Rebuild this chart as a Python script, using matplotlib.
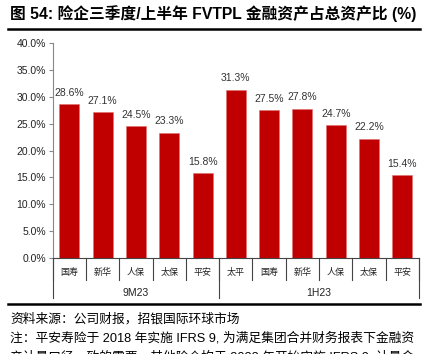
import matplotlib.pyplot as plt
import matplotlib.transforms as mtransforms

plt.rcParams['font.family'] = ['Liberation Sans', 'Noto Sans CJK SC']

companies = ['国寿', '新华', '人保', '太保', '平安', '太平', '国寿', '新华', '人保', '太保', '平安']
values = [28.6, 27.1, 24.5, 23.3, 15.8, 31.3, 27.5, 27.8, 24.7, 22.2, 15.4]
groups = ['9M23', '1H23']
group_sizes = [5, 6]
yticks = [0, 5, 10, 15, 20, 25, 30, 35, 40]

fig = plt.figure(figsize=(4.41, 3.54), dpi=100)
ax = fig.add_axes([0.1195, 0.2712, 0.8305, 0.6073])

x = list(range(len(values)))
bars = ax.bar(x, values, width=0.6, color='#C00000', edgecolor='#E07070', linewidth=0.4)
for xi, v in zip(x, values):
    ax.text(xi, v + 1.2, '%.1f%%' % v, ha='center', va='bottom', fontsize=7.5, color='#333333')

ax.set_xlim(-0.5, len(values) - 0.5)
ax.set_ylim(0, 40)
ax.set_yticks(yticks)
ax.set_yticklabels(['%.1f%%' % t for t in yticks], fontsize=7.5, color='#222222')
ax.set_xticks([])
for s in ['top', 'right']:
    ax.spines[s].set_visible(False)
ax.spines['left'].set_color('#888888')
ax.spines['bottom'].set_color('#444444')
ax.tick_params(axis='y', length=3, color='#888888', pad=2)

trans = mtransforms.blended_transform_factory(ax.transData, ax.transAxes)
row1 = -0.102
row2 = -0.186
for i in range(len(values) + 1):
    ax.plot([i - 0.5, i - 0.5], [0, row1], transform=trans, color='#444444', lw=0.8, clip_on=False)
for xi, c in zip(x, companies):
    ax.text(xi, -0.068, c, transform=trans, ha='center', va='center', fontsize=6.5, color='#222222')

start = 0
bounds = [start - 0.5]
for g, n in zip(groups, group_sizes):
    ax.text(start + (n - 1) / 2, -0.161, g, transform=trans, ha='center', va='center', fontsize=7.5, color='#222222')
    start += n
    bounds.append(start - 0.5)
for b in bounds:
    ax.plot([b, b], [0, row2], transform=trans, color='#444444', lw=0.8, clip_on=False)

# title and rules
fig.text(0.023, 0.963, '图 54: 险企三季度/上半年 FVTPL 金融资产占总资产比 (%)', fontsize=11.3,
         fontweight='bold', ha='left', va='center')
fig.add_artist(plt.Line2D([0.018, 0.953], [0.918, 0.918], color='black', lw=1.8))
fig.add_artist(plt.Line2D([0.018, 0.953], [0.141, 0.141], color='black', lw=1.8))

fig.text(0.023, 0.099, '资料来源：公司财报，招银国际环球市场', fontsize=9.2, ha='left', va='center')
fig.text(0.023, 0.046, '注：平安寿险于 2018 年实施 IFRS 9, 为满足集团合并财务报表下金融资', fontsize=9.2,
         ha='left', va='center')
fig.text(0.023, -0.008, '产计量口径一致的需要，其他险企均于 2023 年开始实施 IFRS 9, 计量会', fontsize=9.2,
         ha='left', va='center')

fig.savefig('out.png', dpi=100)
